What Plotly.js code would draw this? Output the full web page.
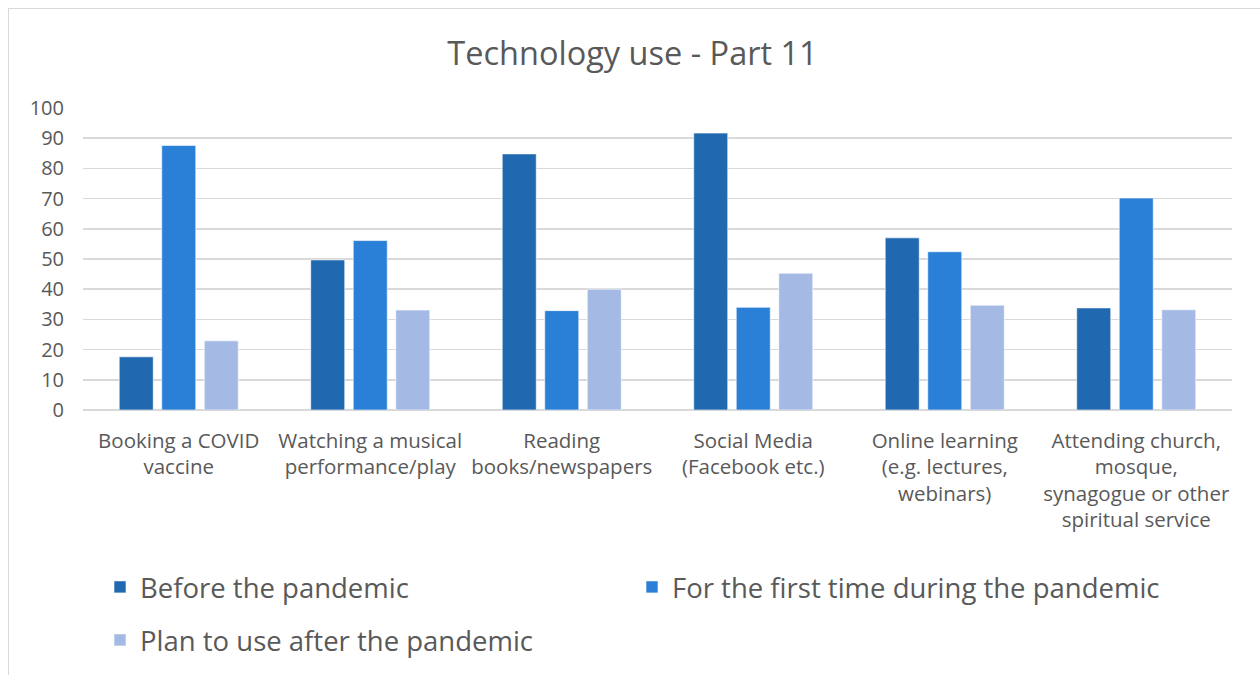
<!DOCTYPE html>
<html>
<head>
<meta charset="utf-8">
<script src="https://cdn.plot.ly/plotly-3.0.1.min.js"></script>
<style>
html,body{margin:0;padding:0;background:#fff;}
#frame{position:absolute;left:8px;top:8px;width:1260px;height:700px;border:1px solid #d9d9d9;box-sizing:border-box;}
#chart{position:absolute;left:0;top:0;width:1260px;height:675px;}
</style>
</head>
<body>
<div id="frame"></div>
<div id="chart"></div>
<script>
const categories = [
  "Booking a COVID<br>vaccine",
  "Watching a musical<br>performance/play",
  "Reading<br>books/newspapers",
  "Social Media<br>(Facebook etc.)",
  "Online learning<br>(e.g. lectures,<br>webinars)",
  "Attending church,<br>mosque,<br>synagogue or other<br>spiritual service"
];
const seriesNames = ["Before the pandemic", "For the first time during the pandemic", "Plan to use after the pandemic"];
const beforePandemic = [17.6, 49.7, 84.8, 91.7, 57.0, 33.8];
const firstTimeDuring = [87.6, 56.1, 32.9, 34.0, 52.4, 70.2];
const planAfter = [22.9, 33.1, 40.0, 45.3, 34.7, 33.2];
const colors = ["#2068B0", "#2A7FD6", "#A4BAE5"];
const yTicks = [0,10,20,30,40,50,60,70,80,90,100];

const values = [beforePandemic, firstTimeDuring, planAfter];
const legendIds = ["legend", "legend2", "legend3"];
const traces = values.map((v, i) => ({
  type: "bar",
  name: seriesNames[i],
  x: categories,
  y: v,
  legend: legendIds[i],
  marker: {color: colors[i], line: {color: "rgba(255,255,255,0.6)", width: 1}},
  hoverinfo: "skip"
}));

const legendFont = {size: 27.5, color: "#595959", family: "Open Sans, sans-serif"};
function legendAt(x, y) {
  return {
    x: x, y: y, xref: "container", yref: "container", xanchor: "left", yanchor: "middle",
    font: legendFont, bgcolor: "rgba(0,0,0,0)", borderwidth: 0, itemwidth: 30
  };
}

const layout = {
  width: 1260, height: 675,
  paper_bgcolor: "rgba(0,0,0,0)",
  plot_bgcolor: "rgba(0,0,0,0)",
  margin: {l: 83, r: 28, t: 108, b: 265, autoexpand: false},
  font: {family: "Open Sans, sans-serif", color: "#595959"},
  title: {text: "Technology use - Part 11", x: 0.502, xanchor: "center", y: 0.92, yanchor: "middle",
          font: {size: 32.5, color: "#595959", family: "Open Sans, sans-serif"}},
  barmode: "group",
  bargap: 0.334,
  bargroupgap: 0.2,
  xaxis: {
    tickfont: {size: 20.5, color: "#595959"},
    showgrid: false, showline: false, ticks: "", automargin: false,
    ticklabelstandoff: 16
  },
  yaxis: {
    range: [0, 100], tickvals: yTicks, ticktext: yTicks.map(String),
    tickfont: {size: 20, color: "#595959"},
    gridcolor: "#d9d9d9", gridwidth: 1.5,
    zeroline: true, zerolinecolor: "#d9d9d9", zerolinewidth: 1.5,
    showline: false, ticks: "", automargin: false, fixedrange: true,
    ticklabelstandoff: 18
  },
  legend: legendAt(100 / 1260, 1 - 587 / 675),
  legend2: legendAt(632 / 1260, 1 - 587 / 675),
  legend3: legendAt(100 / 1260, 1 - 640 / 675),
  showlegend: true
};

Plotly.newPlot("chart", traces, layout, {staticPlot: true, displayModeBar: false});
</script>
</body>
</html>
